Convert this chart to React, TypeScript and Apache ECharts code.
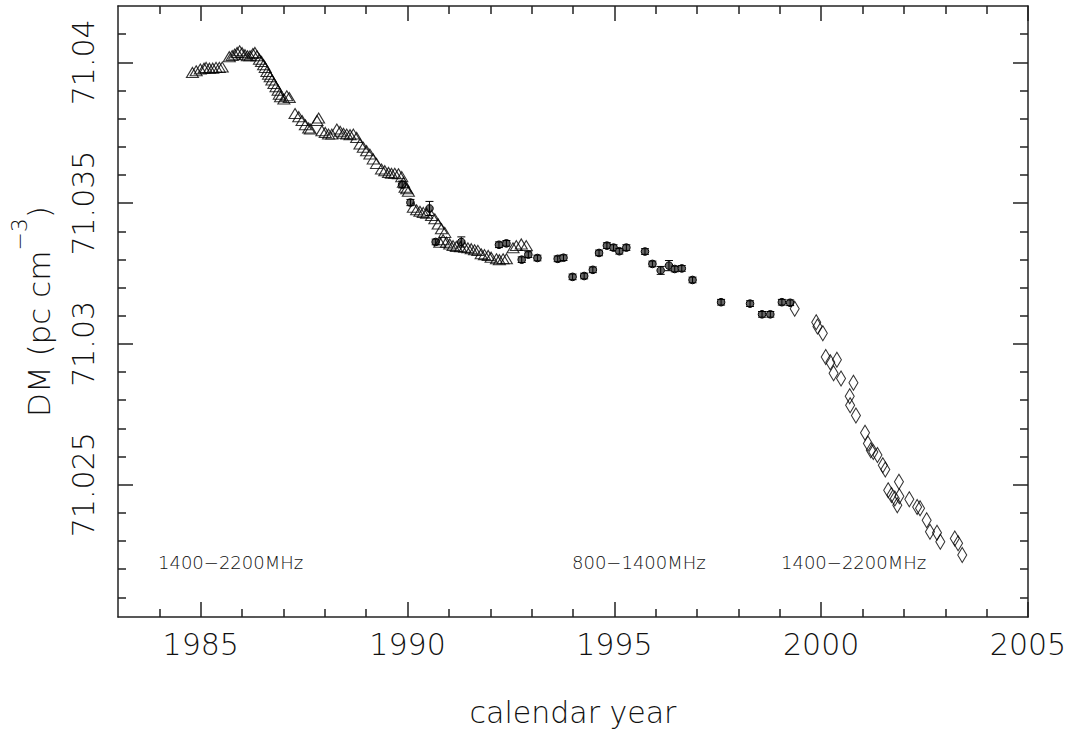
import React, { useEffect, useRef } from "react";
import * as echarts from "echarts";

// ---- data ----
const triYear = [
  1984.8, 1984.89, 1984.99, 1985.08, 1985.13, 1985.21, 1985.29, 1985.37, 1985.45, 1985.52,
  1985.69, 1985.76, 1985.82, 1985.88, 1985.94, 1986.0, 1986.07, 1986.13, 1986.19, 1986.26, 1986.31, 1986.36,
  1986.42, 1986.47, 1986.52, 1986.56, 1986.6, 1986.64, 1986.68, 1986.72, 1986.77, 1986.82, 1986.87, 1986.9, 1986.93,
  1987.01, 1987.08, 1987.14,
  1987.28, 1987.37, 1987.45, 1987.53, 1987.61, 1987.65, 1987.81, 1987.85, 1987.93, 1988.01, 1988.09, 1988.17,
  1988.29, 1988.37, 1988.45, 1988.53, 1988.61, 1988.69, 1988.77, 1988.85, 1988.93, 1989.01, 1989.09, 1989.17,
  1989.25, 1989.37, 1989.45, 1989.54, 1989.61, 1989.69, 1989.78, 1989.86, 1989.9, 1989.94, 1989.98, 1990.02,
  1990.14, 1990.22, 1990.3, 1990.38, 1990.46, 1990.58, 1990.66, 1990.74, 1990.82, 1990.9,
  1990.78, 1990.86, 1990.94, 1991.02, 1991.1, 1991.18, 1991.28, 1991.38, 1991.46, 1991.54, 1991.62, 1991.7,
  1991.78, 1991.86, 1991.95, 1992.02, 1992.15, 1992.22, 1992.31, 1992.39, 1992.55, 1992.63, 1992.75, 1992.87,
];
const triDM = [
  71.03964, 71.0397, 71.03976, 71.03979, 71.03982, 71.03979, 71.03979, 71.03982, 71.03982, 71.03983,
  71.0402, 71.04024, 71.04029, 71.04035, 71.04041, 71.04034, 71.04027, 71.04023, 71.04023, 71.04031, 71.04035, 71.04023,
  71.04011, 71.04003, 71.03991, 71.03982, 71.03967, 71.03958, 71.03949, 71.03937, 71.03925, 71.03913, 71.03901, 71.03887, 71.03878,
  71.0387, 71.03881, 71.03875,
  71.03818, 71.03807, 71.03793, 71.03778, 71.03767, 71.03763, 71.03793, 71.03802, 71.03757, 71.03751, 71.03745, 71.03745,
  71.03763, 71.03755, 71.03748, 71.03745, 71.03743, 71.03745, 71.03733, 71.0371, 71.03698, 71.03686, 71.03674, 71.03657,
  71.03641, 71.03621, 71.03615, 71.03609, 71.03606, 71.03606, 71.03604, 71.03594, 71.03574, 71.03556, 71.03551, 71.03542,
  71.03485, 71.03476, 71.03471, 71.03467, 71.03464, 71.03456, 71.03444, 71.03426, 71.03409, 71.03396,
  71.03361, 71.0337, 71.03361, 71.03355, 71.03349, 71.03346, 71.03345, 71.03343, 71.03341, 71.03338, 71.03334, 71.03332,
  71.0332, 71.03317, 71.03314, 71.03308, 71.03302, 71.03299, 71.03302, 71.03302, 71.03341, 71.03349, 71.03355, 71.03349,
];

const circYear = [
  1989.87, 1990.07, 1990.53, 1990.68, 1991.3, 1992.21, 1992.39, 1992.76, 1992.92, 1993.14,
  1993.63, 1993.77, 1993.99, 1994.27, 1994.48, 1994.63, 1994.82, 1994.98, 1995.12, 1995.29,
  1995.74, 1995.92, 1996.12, 1996.32, 1996.46, 1996.63, 1996.89, 1997.58, 1998.28, 1998.57,
  1998.77, 1999.05, 1999.25,
];
const circDM = [
  71.03566, 71.03502, 71.03481, 71.03362, 71.03362, 71.03352, 71.03357, 71.03299, 71.03317, 71.03305,
  71.03302, 71.03306, 71.03238, 71.03241, 71.03263, 71.03323, 71.03349, 71.03342, 71.03329, 71.03342,
  71.03328, 71.03284, 71.03261, 71.03278, 71.03266, 71.03268, 71.03227, 71.03148, 71.03143, 71.03105,
  71.03105, 71.03148, 71.03146,
];
const circErr = [
  0.00012, 0.00011, 0.00025, 0.0001, 0.00018, 0.0001, 0.0001, 0.0001, 0.0001, 0.0001,
  0.0001, 0.0001, 0.0001, 0.0001, 0.0001, 0.0001, 0.0001, 0.0001, 0.0001, 0.0001,
  0.0001, 0.0001, 0.00014, 0.00018, 0.0001, 0.0001, 0.0001, 0.0001, 0.0001, 0.0001,
  0.0001, 0.0001, 0.0001,
];

const diaYear = [
  1999.36, 1999.88, 1999.91, 2000.04, 2000.11, 2000.22, 2000.38, 2000.3, 2000.48, 2000.78,
  2000.69, 2000.7, 2000.84, 2001.06, 2001.13, 2001.2, 2001.26, 2001.36, 2001.49, 2001.55,
  2001.88, 2001.62, 2001.7, 2001.78, 2001.84, 2001.89, 2002.13, 2002.32, 2002.39, 2002.55,
  2002.63, 2002.8, 2002.88, 2003.23, 2003.31, 2003.41,
];
const diaDM = [
  71.03125, 71.03077, 71.03062, 71.03038, 71.02953, 71.02935, 71.02944, 71.02896, 71.02877, 71.02862,
  71.02814, 71.02782, 71.02746, 71.02684, 71.02646, 71.02622, 71.02616, 71.02605, 71.02569, 71.02554,
  71.0251, 71.0248, 71.02463, 71.02451, 71.02427, 71.02459, 71.02448, 71.02421, 71.02416, 71.02374,
  71.02333, 71.02329, 71.02297, 71.02309, 71.02292, 71.0225,
];

const xMajorTicks = [1985, 1990, 1995, 2000, 2005];
const xMinorTicks = [
  1984, 1986, 1987, 1988, 1989, 1991, 1992, 1993, 1994, 1996, 1997, 1998, 1999,
  2001, 2002, 2003, 2004,
];
const yMajorTicks = [71.025, 71.03, 71.035, 71.04];
const yMinorTicks = [
  71.021, 71.022, 71.023, 71.024, 71.026, 71.027, 71.028, 71.029, 71.031, 71.032, 71.033, 71.034,
  71.036, 71.037, 71.038, 71.039, 71.041,
];
const bandLabels = ["1400\u22122200MHz", "800\u22121400MHz", "1400\u22122200MHz"];

const X_MIN = 1983;
const X_MAX = 2005;
const Y_MIN = 71.0203;
const Y_MAX = 71.042;

const FONT = "'DejaVu Sans ExtraLight', 'DejaVu Sans Light', 'DejaVu Sans', sans-serif";
const LINE = "#222";
const TXT = "#111";

export default function App() {
  const ref = useRef<HTMLDivElement>(null);

  useEffect(() => {
    if (!ref.current) return;
    const chart = echarts.init(ref.current, undefined, { renderer: "svg" });

    const baseX = (pos: "bottom" | "top", major: boolean, showLine: boolean, showLabel: boolean) => ({
      type: "value",
      position: pos,
      min: X_MIN,
      max: X_MAX,
      axisLine: { show: showLine, onZero: false, lineStyle: { color: LINE, width: 1.5 } },
      axisTick: {
        show: true,
        inside: true,
        length: major ? 15 : 8,
        customValues: major ? xMajorTicks : xMinorTicks,
        lineStyle: { color: LINE, width: 1.5 },
      },
      axisLabel: {
        show: showLabel,
        customValues: major ? xMajorTicks : xMinorTicks,
        color: TXT,
        fontSize: 30,
        fontFamily: FONT,
        fontWeight: 200,
        margin: 12,
        formatter: (v: number) => String(v),
      },
      splitLine: { show: false },
    });

    const baseY = (pos: "left" | "right", major: boolean, showLine: boolean, showLabel: boolean) => ({
      type: "value",
      position: pos,
      min: Y_MIN,
      max: Y_MAX,
      axisLine: { show: showLine, onZero: false, lineStyle: { color: LINE, width: 1.5 } },
      axisTick: {
        show: true,
        inside: true,
        length: major ? 15 : 8,
        customValues: major ? yMajorTicks : yMinorTicks,
        lineStyle: { color: LINE, width: 1.5 },
      },
      axisLabel: {
        show: showLabel,
        customValues: major ? yMajorTicks : yMinorTicks,
        rotate: 90,
        color: TXT,
        fontSize: 30,
        fontFamily: FONT,
        fontWeight: 200,
        margin: 20,
        formatter: (v: number) => String(v),
      },
      splitLine: { show: false },
    });

    const xMain: any = baseX("bottom", true, true, true);
    xMain.name = "calendar year";
    xMain.nameLocation = "middle";
    xMain.nameGap = 80;
    xMain.nameTextStyle = { color: TXT, fontSize: 30, fontFamily: FONT, fontWeight: 200 };

    const yMain: any = baseY("left", true, true, true);
    yMain.name = "{a|DM (pc cm}{b|\u22123}{a|)}";
    yMain.nameLocation = "middle";
    yMain.nameRotate = 90;
    yMain.nameGap = 64;
    yMain.nameTextStyle = {
      rich: {
        a: { color: TXT, fontSize: 31, fontFamily: FONT, fontWeight: 200, lineHeight: 46, verticalAlign: "bottom" },
        b: { color: TXT, fontSize: 22, fontFamily: FONT, fontWeight: 200, lineHeight: 22, verticalAlign: "top" },
      },
    };

    const triData = triYear.map((x, i) => [x, triDM[i]]);
    const diaData = diaYear.map((x, i) => [x, diaDM[i]]);
    const circData = circYear.map((x, i) => [x, circDM[i], circErr[i]]);

    chart.setOption({
      animation: false,
      backgroundColor: "#fff",
      grid: { left: 115, top: 6, width: 913, height: 611, containLabel: false },
      xAxis: [
        xMain,
        baseX("bottom", false, false, false),
        baseX("top", true, true, false),
        baseX("top", false, false, false),
      ],
      yAxis: [
        yMain,
        baseY("left", false, false, false),
        baseY("right", true, true, false),
        baseY("right", false, false, false),
      ],
      series: [
        {
          type: "scatter",
          name: "tri",
          data: triData,
          symbol: "triangle",
          symbolSize: [12, 10],
          itemStyle: { color: "rgba(0,0,0,0)", borderColor: "#000", borderWidth: 1.1 },
        },
        {
          type: "custom",
          name: "circ",
          data: circData,
          renderItem: (params: any, api: any) => {
            const x = api.value(0);
            const y = api.value(1);
            const e = api.value(2);
            const c = api.coord([x, y]);
            const t = api.coord([x, y + e]);
            const b = api.coord([x, y - e]);
            const w = 4;
            const ls = { stroke: "#000", lineWidth: 1 };
            return {
              type: "group",
              children: [
                { type: "circle", shape: { cx: c[0], cy: c[1], r: 3.8 }, style: { fill: "#666", stroke: "#000", lineWidth: 1 } },
                { type: "line", shape: { x1: c[0], y1: t[1], x2: c[0], y2: b[1] }, style: ls },
                { type: "line", shape: { x1: c[0] - w, y1: t[1], x2: c[0] + w, y2: t[1] }, style: ls },
                { type: "line", shape: { x1: c[0] - w, y1: b[1], x2: c[0] + w, y2: b[1] }, style: ls },
              ],
            };
          },
        },
        {
          type: "scatter",
          name: "dia",
          data: diaData,
          symbol: "diamond",
          symbolSize: [9, 15],
          itemStyle: { color: "rgba(0,0,0,0)", borderColor: "#000", borderWidth: 1.1 },
        },
      ],
      graphic: [
        { type: "text", left: 158, top: 553, style: { text: bandLabels[0], fontSize: 18, fontFamily: FONT, fontWeight: 200, fill: TXT } },
        { type: "text", left: 572, top: 553, style: { text: bandLabels[1], fontSize: 18, fontFamily: FONT, fontWeight: 200, fill: TXT } },
        { type: "text", left: 781, top: 553, style: { text: bandLabels[2], fontSize: 18, fontFamily: FONT, fontWeight: 200, fill: TXT } },
      ],
    });

    return () => chart.dispose();
  }, []);

  return (
    <div
      ref={ref}
      style={{ position: "fixed", left: 0, top: 0, width: 1075, height: 735, background: "#fff" }}
    />
  );
}
